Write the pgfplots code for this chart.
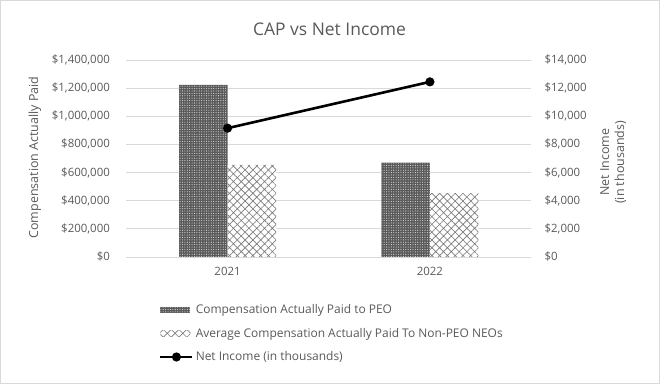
\documentclass[border=0pt]{standalone}
\usepackage{pgfplots}
\pgfplotsset{compat=1.18}
\usepackage{fontspec}
\setmainfont{Open Sans}
\usetikzlibrary{patterns.meta}
\definecolor{txt}{HTML}{595959}
\definecolor{gridc}{HTML}{D9D9D9}
\definecolor{darkbar}{HTML}{5A5A5A}
\definecolor{hatchc}{HTML}{7A7A7A}
\begin{document}
\begin{tikzpicture}[x=1bp,y=1bp]
\draw[gridc, line width=0.75bp] (0.5,0.5) rectangle (659.5,383.5);
\node[text=txt, font=\fontsize{17.5}{20}\selectfont] at (329.5,355) {CAP vs Net Income};
\pgfplotsset{
  base/.style={
    scale only axis, width=404.5bp, height=197bp,
    at={(126.5bp,127bp)}, anchor=south west,
    xmin=-0.5, xmax=1.5,
    axis line style={draw=none},
    major tick length=0pt,
    tick label style={text=txt, font=\fontsize{11.5}{14}\selectfont},
    label style={text=txt, font=\fontsize{12.5}{15}\selectfont},
    /pgf/number format/assume math mode=true,
    scaled y ticks=false,
  },
  peo/.style={draw=none, fill=darkbar, postaction={pattern={Dots[distance=2.4bp, radius=0.55bp]}, pattern color=white!80!darkbar}},
  nonpeo/.style={draw=none, fill=white, postaction={pattern={Hatch[angle=45, distance=5.5bp, line width=0.65bp]}, pattern color=hatchc}},
  barlegend/.style={legend image code/.code={\fill[##1] (0bp,-3bp) rectangle (30bp,3bp);}},
  linelegend/.style={legend image code/.code={\draw[mark repeat=2, mark phase=2, ##1] plot coordinates {(0bp,0bp) (16bp,0bp) (32bp,0bp)};}},
}
\begin{axis}[base,
  ymin=0, ymax=1400000,
  ytick={0,200000,400000,600000,800000,1000000,1200000,1400000},
  yticklabel={\$\pgfmathprintnumber[fixed,1000 sep={,}]{\tick}},
  yticklabel style={xshift=-13bp},
  ymajorgrids, grid style={gridc, line width=0.75bp},
  xtick={0,1}, xticklabels={2021,2022},
  xticklabel style={yshift=-7bp},
  ylabel={Compensation Actually Paid},
  ylabel style={at={(axis description cs:-0.226,0.505)}, anchor=center},
  ybar=0pt, bar width=48.5bp,
]
\addplot[peo] coordinates {(0,1222000) (1,670000)};
\addplot[nonpeo] coordinates {(0,654000) (1,453000)};
\end{axis}
\begin{axis}[base,
  ymin=0, ymax=14000,
  ytick={0,2000,4000,6000,8000,10000,12000,14000},
  yticklabel pos=right,
  yticklabel={\$\pgfmathprintnumber[fixed,1000 sep={,}]{\tick}},
  yticklabel style={xshift=10bp},
  xtick=\empty,
  ylabel={Net Income\\(in thousands)},
  ylabel style={at={(axis description cs:1.2027,0.48)}, anchor=center, align=center},
  legend style={at={(axis description cs:0.073,-0.22)}, anchor=north west, draw=none, fill=none,
    font=\fontsize{12}{14}\selectfont, text=txt, row sep=9bp,
    cells={anchor=west}, nodes={inner sep=2bp}},
]
\addlegendimage{peo, barlegend}
\addlegendentry{Compensation Actually Paid to PEO}
\addlegendimage{nonpeo, barlegend}
\addlegendentry{Average Compensation Actually Paid To Non-PEO NEOs}
\addplot[black, line width=2.6bp, mark=*, mark size=3.2bp, linelegend]
  coordinates {(0,9150) (1,12440)};
\addlegendentry{Net Income (in thousands)}
\end{axis}
\end{tikzpicture}
\end{document}
